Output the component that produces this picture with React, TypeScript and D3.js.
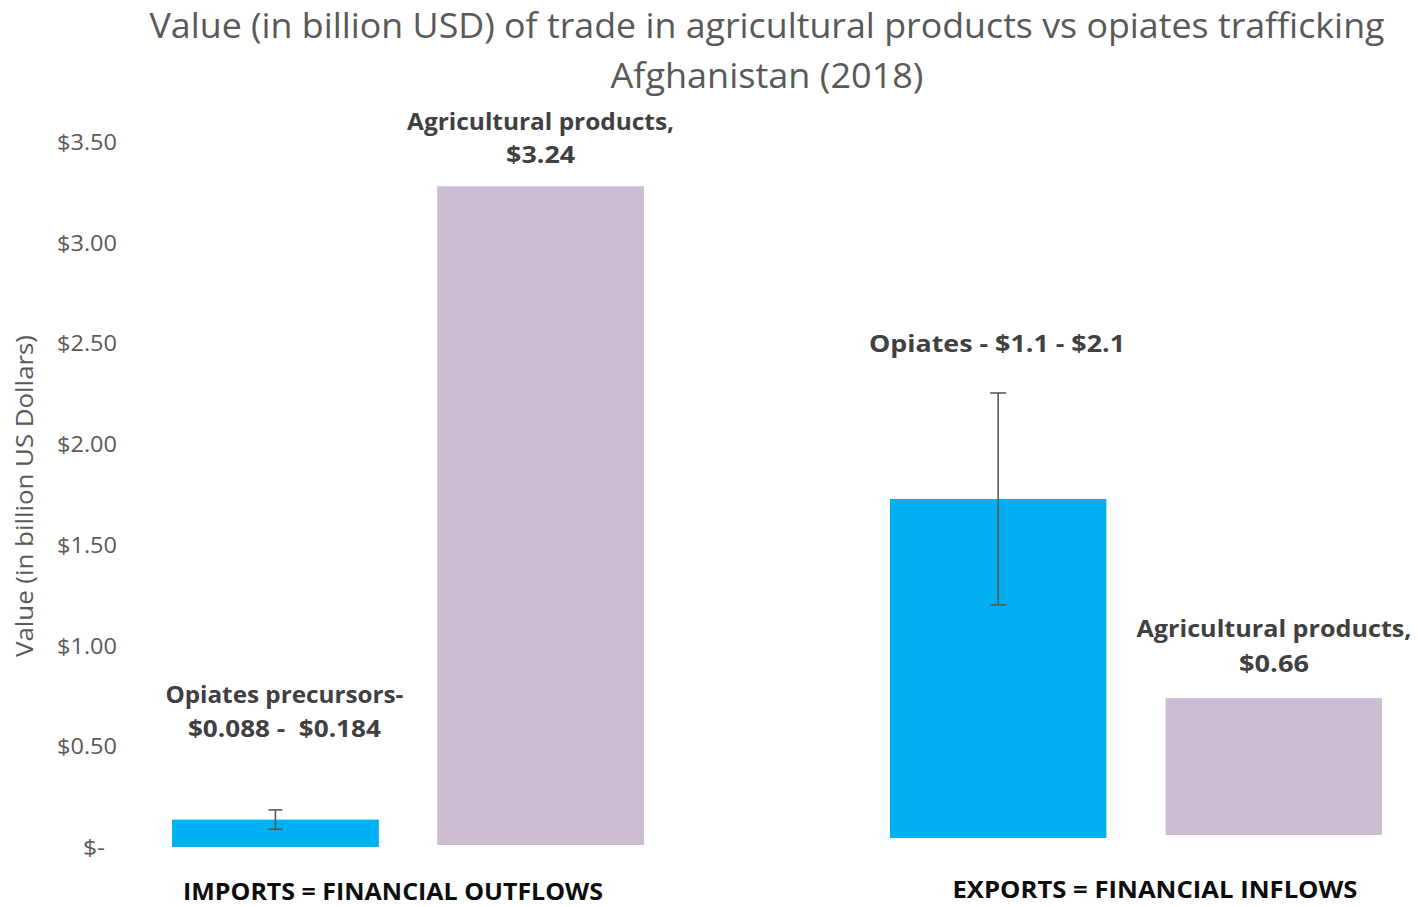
import React from "react";
import * as d3 from "d3";

const importCategories = ["Opiates precursors", "Agricultural products"];
const importValues = [0.136, 3.28];
const importErrLow = [0.088, null];
const importErrHigh = [0.184, null];

const exportCategories = ["Opiates", "Agricultural products"];
const exportValues = [1.6, 0.66];
const exportErrLow = [1.1, null];
const exportErrHigh = [2.1, null];

const yTicks = [0, 0.5, 1, 1.5, 2, 2.5, 3, 3.5];
const yTickLabels = ["$-", "$0.50", "$1.00", "$1.50", "$2.00", "$2.50", "$3.00", "$3.50"];

const importLabels = [
  ["Opiates precursors-", "$0.088 -\u00A0 $0.184"],
  ["Agricultural products,", "$3.24"],
];
const exportLabels = [["Opiates - $1.1 - $2.1"], ["Agricultural products,", "$0.66"]];

const COLORS = ["#00B0F0", "#CCBDD2"];
const FONT = "'Open Sans', sans-serif";

export default function App() {
  const W = 1418, H = 907;
  const yL = d3.scaleLinear().domain([0, 3.5]).range([847, 142]);
  const yR = d3.scaleLinear().domain([0, 2.1]).range([838, 393]);
  const xL = d3.scaleBand<string>().domain(importCategories).range([172, 644]).paddingInner(0.22);
  const xR = d3.scaleBand<string>().domain(exportCategories).range([890, 1382]).paddingInner(0.215);

  const labelLens = [[238, 193], [267, 69]];
  const labelBase = [[703, 737], [130, 163]];
  const exLabelLens = [[256], [275, 70]];
  const exLabelBase = [[352], [637, 672]];
  const exLabelX = [997, 1274];

  const errBar = (x: number, y: any, lo: number, hi: number, cap: number, key: string) => (
    <g key={key} stroke="#595959" strokeWidth={1.6}>
      <line x1={x} x2={x} y1={y(lo)} y2={y(hi)} />
      <line x1={x - cap / 2} x2={x + cap / 2} y1={y(lo)} y2={y(lo)} />
      <line x1={x - cap / 2} x2={x + cap / 2} y1={y(hi)} y2={y(hi)} />
    </g>
  );

  return (
    <svg width={W} height={H} style={{ position: "absolute", left: 0, top: 0, background: "#fff" }} fontFamily={FONT}>
      <rect width={W} height={H} fill="#fff" />
      {/* Title */}
      <text x={767} y={38} textAnchor="middle" fontSize={34} fill="#595959" textLength={1235} lengthAdjust="spacingAndGlyphs">
        Value (in billion USD) of trade in agricultural products vs opiates trafficking
      </text>
      <text x={767} y={88} textAnchor="middle" fontSize={34} fill="#595959" textLength={313} lengthAdjust="spacingAndGlyphs">
        Afghanistan (2018)
      </text>
      {/* Y axis label */}
      <text transform="translate(33,496) rotate(-90)" textAnchor="middle" fontSize={23} fill="#595959" textLength={322} lengthAdjust="spacingAndGlyphs">
        Value (in billion US Dollars)
      </text>
      {/* Y ticks */}
      {yTicks.map((t, i) => (
        <text key={t} x={t === 0 ? 105 : 117} y={yL(t) + 8} textAnchor="end" fontSize={21} fill="#595959" textLength={t === 0 ? 22 : 60} lengthAdjust="spacingAndGlyphs">
          {yTickLabels[i]}
        </text>
      ))}
      {/* Import bars */}
      {importCategories.map((c, i) => (
        <rect key={c} x={xL(c)} y={yL(importValues[i])} width={xL.bandwidth()} height={yL(0) - yL(importValues[i]) - (i === 1 ? 2 : 0)} fill={COLORS[i]} />
      ))}
      {importCategories.map((c, i) =>
        importErrLow[i] != null ? errBar(xL(c)! + xL.bandwidth() / 2, yL, importErrLow[i]!, importErrHigh[i]!, 14, "ie" + i) : null
      )}
      {importCategories.map((c, i) =>
        importLabels[i].map((t, j) => (
          <text key={c + j} x={xL(c)! + xL.bandwidth() / 2 + (i === 0 ? 9 : 0)} y={labelBase[i][j]} textAnchor="middle" fontWeight="bold" fontSize={24} fill="#404040" textLength={labelLens[i][j]} lengthAdjust="spacingAndGlyphs">
            {t}
          </text>
        ))
      )}
      {/* Export bars */}
      {exportCategories.map((c, i) => (
        <rect key={c} x={xR(c)} y={yR(exportValues[i])} width={xR.bandwidth()} height={yR(0) - yR(exportValues[i]) - (i === 1 ? 3 : 0)} fill={COLORS[i]} />
      ))}
      {exportCategories.map((c, i) =>
        exportErrLow[i] != null ? errBar(xR(c)! + xR.bandwidth() / 2, yR, exportErrLow[i]!, exportErrHigh[i]!, 16, "ee" + i) : null
      )}
      {exportCategories.map((c, i) =>
        exportLabels[i].map((t, j) => (
          <text key={c + j} x={exLabelX[i]} y={exLabelBase[i][j]} textAnchor="middle" fontWeight="bold" fontSize={24} fill="#404040" textLength={exLabelLens[i][j]} lengthAdjust="spacingAndGlyphs">
            {t}
          </text>
        ))
      )}
      {/* Category labels */}
      <text x={393} y={900} textAnchor="middle" fontWeight="bold" fontSize={23} fill="#0d0d0d" textLength={420} lengthAdjust="spacingAndGlyphs">
        IMPORTS = FINANCIAL OUTFLOWS
      </text>
      <text x={1155} y={898} textAnchor="middle" fontWeight="bold" fontSize={23} fill="#0d0d0d" textLength={405} lengthAdjust="spacingAndGlyphs">
        EXPORTS = FINANCIAL INFLOWS
      </text>
    </svg>
  );
}
